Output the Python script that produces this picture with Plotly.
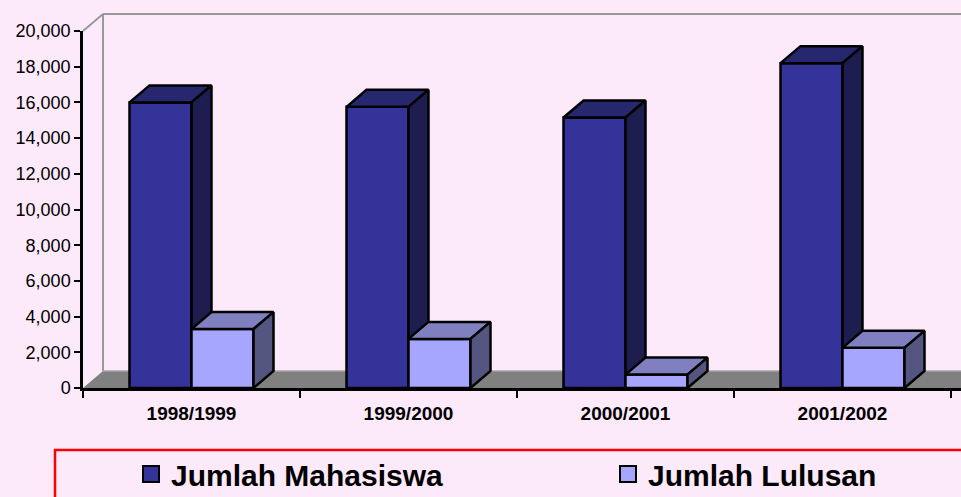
import plotly.graph_objects as go

# ---------------- data ----------------
categories = ["1998/1999", "1999/2000", "2000/2001", "2001/2002"]
mahasiswa = [16000, 15750, 15150, 18200]
lulusan = [3300, 2750, 750, 2250]
series_names = ["Jumlah Mahasiswa", "Jumlah Lulusan"]
y_tick_values = [0, 2000, 4000, 6000, 8000, 10000, 12000, 14000, 16000, 18000, 20000]

# ---------------- styling / geometry ----------------
W, H = 961, 497
ML, MR, MT, MB = 83, 0, 31, 109
PW, PH = W - ML - MR, H - MT - MB
CAT_PX = 217                  # pixel width of one category slot
YMAX = y_tick_values[-1]
x_range = [-0.5, -0.5 + PW / CAT_PX]
DEPTH_X_PX, DEPTH_Y_PX = 20, 17
dx = DEPTH_X_PX / CAT_PX
dy = DEPTH_Y_PX / PH * YMAX
bw = 62 / CAT_PX

BG = "#FCE9FA"
FONT = "Liberation Sans, Arial, sans-serif"
colors = {
    "Jumlah Mahasiswa": dict(front="#333399", top="#27276F", side="#1D1D4F"),
    "Jumlah Lulusan": dict(front="#A6A6FF", top="#8080C0", side="#555582"),
}
EDGE = dict(color="black", width=2.5)

fig = go.Figure()


def add_faces(values, s_idx, name):
    fx, fy, tx, ty, sx, sy = [], [], [], [], [], []
    for i, v in enumerate(values):
        x0 = i - bw + s_idx * bw
        x1 = x0 + bw
        fx += [x0, x1, x1, x0, x0, None]
        fy += [0, 0, v, v, 0, None]
        tx += [x0, x1, x1 + dx, x0 + dx, x0, None]
        ty += [v, v, v + dy, v + dy, v, None]
        sx += [x1, x1 + dx, x1 + dx, x1, x1, None]
        sy += [0, dy, v + dy, v, 0, None]
    c = colors[name]
    for xs, ys, col in ((fx, fy, c["front"]), (tx, ty, c["top"]), (sx, sy, c["side"])):
        fig.add_trace(go.Scatter(
            x=xs, y=ys, mode="lines", fill="toself", fillcolor=col,
            line=EDGE, showlegend=False, hoverinfo="skip"))


add_faces(mahasiswa, 0, series_names[0])
add_faces(lulusan, 1, series_names[1])

# legend entries (one legend box per entry so each sits where the original has it)
legend_ids = ["legend", "legend2"]
for name, lid in zip(series_names, legend_ids):
    fig.add_trace(go.Scatter(
        x=[None], y=[None], mode="markers", name=name, legend=lid,
        marker=dict(symbol="square", size=16, color=colors[name]["front"],
                    line=dict(color="black", width=2))))

dxp = DEPTH_X_PX / PW
dyp = DEPTH_Y_PX / PH
xr = x_range[1]
shapes = [
    # floor
    dict(type="path", xref="x", yref="y", layer="below",
         path=f"M {x_range[0]},0 L {xr + 1},0 L {xr + 1 + dx},{dy} L {x_range[0] + dx},{dy} Z",
         fillcolor="#808080", line=dict(width=0)),
    dict(type="line", xref="x", yref="y", layer="below",
         x0=x_range[0] + dx, x1=xr + 1, y0=dy, y1=dy,
         line=dict(color="#A6A6A6", width=1.5)),
    # back wall edges
    dict(type="line", xref="paper", yref="paper", layer="below",
         x0=dxp, x1=dxp, y0=dyp, y1=1 + dyp, line=dict(color="#999999", width=2)),
    dict(type="line", xref="paper", yref="paper", layer="below",
         x0=dxp, x1=1.05, y0=1 + dyp, y1=1 + dyp, line=dict(color="#999999", width=2)),
    dict(type="line", xref="paper", yref="paper", layer="below",
         x0=0, x1=dxp, y0=1, y1=1 + dyp, line=dict(color="#999999", width=2)),
    # legend frame
    dict(type="rect", xref="paper", yref="paper", layer="below",
         x0=(55 - ML) / PW, x1=1.1, y0=-(450 - (MT + PH)) / PH, y1=-0.6,
         line=dict(color="#FF0000", width=2.5), fillcolor="rgba(0,0,0,0)"),
]

legend_font = dict(family=FONT, size=30, weight="bold", color="black")
legend_y = -(474 - (MT + PH)) / PH
common_legend = dict(orientation="h", xanchor="left", y=legend_y, yanchor="middle",
                     bgcolor="rgba(0,0,0,0)", borderwidth=0, font=legend_font,
                     itemwidth=30)

fig.update_layout(
    width=W, height=H,
    margin=dict(l=ML, r=MR, t=MT, b=MB, autoexpand=False),
    paper_bgcolor=BG, plot_bgcolor=BG,
    font=dict(family=FONT, color="black"),
    shapes=shapes,
    showlegend=True,
    legend=dict(x=(131 - ML) / PW, **common_legend),
    legend2=dict(x=(608 - ML) / PW, **common_legend),
    xaxis=dict(
        range=x_range, showgrid=False, zeroline=False,
        showline=True, linecolor="black", linewidth=2.5,
        tickmode="array", tickvals=list(range(len(categories))), ticktext=categories,
        ticks="", ticklabelstandoff=6,
        tickfont=dict(family=FONT, size=19, weight="bold", color="black"),
        minor=dict(tickmode="array", tickvals=[i - 0.5 for i in range(len(categories) + 1)],
                   ticks="outside", ticklen=7, tickwidth=2, tickcolor="black"),
    ),
    yaxis=dict(
        range=[0, YMAX], showgrid=False, zeroline=False,
        showline=True, linecolor="black", linewidth=2.5,
        tickmode="array", tickvals=y_tick_values, tickformat=",",
        ticks="outside", ticklen=6, tickwidth=2, tickcolor="black",
        tickfont=dict(family=FONT, size=18, color="black"),
    ),
)

fig.write_html("out.html", config={"displayModeBar": False},
               post_script="document.body.style.margin='0';")
